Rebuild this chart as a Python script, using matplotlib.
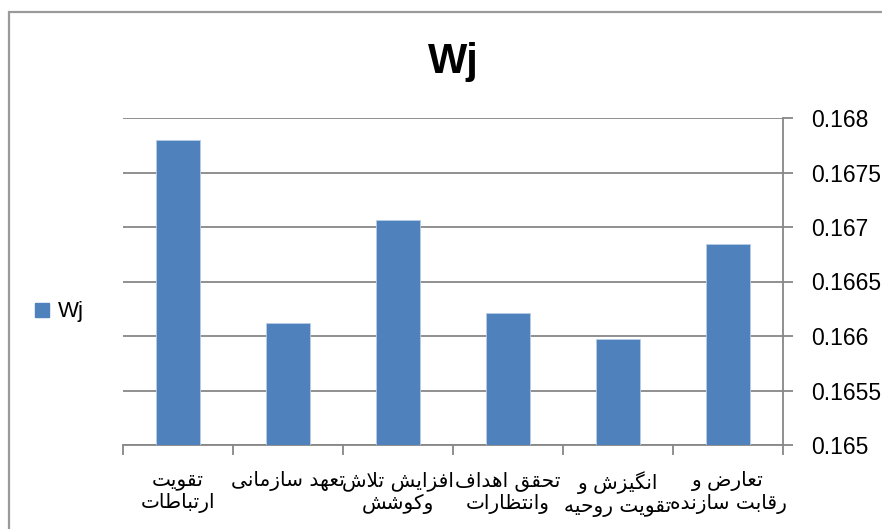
import matplotlib
matplotlib.use("Agg")
import matplotlib.pyplot as plt
from matplotlib import font_manager, ft2font
from matplotlib.font_manager import FontProperties
from matplotlib.patches import Rectangle
from matplotlib.lines import Line2D
from matplotlib.ticker import FuncFormatter, MultipleLocator, FixedLocator

# ---------------- data ----------------
categories = [
    "تقویت\nارتباطات",
    "تعهد سازمانی",
    "افزایش تلاش\nوکوشش",
    "تحقق اهداف\nوانتظارات",
    "انگیزش و\nتقویت روحیه",
    "تعارض و\nرقابت سازنده",
]
values = [0.16780, 0.16612, 0.16706, 0.16621, 0.16597, 0.16684]
series_name = "Wj"
title = "Wj"
y_min, y_max, y_step = 0.165, 0.168, 0.0005

# ---------------- Arabic shaping (matplotlib has no RTL shaping) ----------------
FORMS = {
    "ا": (0xFE8D, 0xFE8E, None, None),
    "ب": (0xFE8F, 0xFE90, 0xFE91, 0xFE92),
    "ت": (0xFE95, 0xFE96, 0xFE97, 0xFE98),
    "ح": (0xFEA1, 0xFEA2, 0xFEA3, 0xFEA4),
    "د": (0xFEA9, 0xFEAA, None, None),
    "ر": (0xFEAD, 0xFEAE, None, None),
    "ز": (0xFEAF, 0xFEB0, None, None),
    "س": (0xFEB1, 0xFEB2, 0xFEB3, 0xFEB4),
    "ش": (0xFEB5, 0xFEB6, 0xFEB7, 0xFEB8),
    "ض": (0xFEBD, 0xFEBE, 0xFEBF, 0xFEC0),
    "ط": (0xFEC1, 0xFEC2, 0xFEC3, 0xFEC4),
    "ظ": (0xFEC5, 0xFEC6, 0xFEC7, 0xFEC8),
    "ع": (0xFEC9, 0xFECA, 0xFECB, 0xFECC),
    "ف": (0xFED1, 0xFED2, 0xFED3, 0xFED4),
    "ق": (0xFED5, 0xFED6, 0xFED7, 0xFED8),
    "ک": (0xFB8E, 0xFB8F, 0xFB90, 0xFB91),
    "گ": (0xFB92, 0xFB93, 0xFB94, 0xFB95),
    "ل": (0xFEDD, 0xFEDE, 0xFEDF, 0xFEE0),
    "م": (0xFEE1, 0xFEE2, 0xFEE3, 0xFEE4),
    "ن": (0xFEE5, 0xFEE6, 0xFEE7, 0xFEE8),
    "ه": (0xFEE9, 0xFEEA, 0xFEEB, 0xFEEC),
    "و": (0xFEED, 0xFEEE, None, None),
    "ی": (0xFBFC, 0xFBFD, 0xFBFE, 0xFBFF),
}
FALLBACK = {
    "ی": (0xFEEF, 0xFEF0, 0xFEF3, 0xFEF4),
    "ک": (0xFED9, 0xFEDA, 0xFEDB, 0xFEDC),
    "گ": (0xFED9, 0xFEDA, 0xFEDB, 0xFEDC),
}
DUAL = {c for c, f in FORMS.items() if f[2] is not None}

AR_FAMILY = "DejaVu Sans"
_ar_path = font_manager.findfont(FontProperties(family=AR_FAMILY))
_ar_font = ft2font.FT2Font(_ar_path)


def _has(cp):
    return _ar_font.get_char_index(cp) != 0


def _form(c, idx):
    cp = FORMS[c][idx]
    if cp is not None and _has(cp):
        return chr(cp)
    if c in FALLBACK and _has(FALLBACK[c][idx]):
        return chr(FALLBACK[c][idx])
    return c


def shape_line(line):
    chars = list(line)
    n = len(chars)
    out = []
    i = 0
    while i < n:
        c = chars[i]
        prev_join = i > 0 and chars[i - 1] in DUAL
        if c == "ل" and i + 1 < n and chars[i + 1] == "ا":
            cp = 0xFEFC if prev_join else 0xFEFB
            out.append(chr(cp) if _has(cp) else "لا")
            i += 2
            continue
        if c not in FORMS:
            out.append(c)
            i += 1
            continue
        next_join = c in DUAL and i + 1 < n and chars[i + 1] in FORMS
        if prev_join and next_join:
            idx = 3
        elif prev_join:
            idx = 1
        elif next_join:
            idx = 2
        else:
            idx = 0
        out.append(_form(c, idx))
        i += 1
    return "".join(reversed(out))


def shape(text):
    return "\n".join(shape_line(l) for l in text.split("\n"))


# ---------------- figure ----------------
W, H = 882, 529
fig = plt.figure(figsize=(W / 100, H / 100), dpi=100)
fig.patch.set_facecolor("white")

LAT = "Liberation Sans"
GRAY = "#878787"
BAR = "#4F81BD"

ax = fig.add_axes([123 / W, 84 / H, 660 / W, 327 / H])
x = list(range(len(categories)))
ax.bar(x, values, width=0.4, color=BAR, edgecolor="#B9CDE5", linewidth=0.6,
       label=series_name, zorder=3)

ax.set_xlim(-0.5, len(categories) - 0.5)
ax.set_ylim(y_min, y_max)
ax.yaxis.set_major_locator(MultipleLocator(y_step))
ax.yaxis.set_major_formatter(FuncFormatter(lambda v, p: f"{round(v, 4):g}"))
ax.yaxis.tick_right()
ax.grid(axis="y", color=GRAY, linewidth=1.3, zorder=0)
ax.set_axisbelow(True)

for s in ("top", "left"):
    ax.spines[s].set_visible(False)
for s in ("right", "bottom"):
    ax.spines[s].set_color(GRAY)
    ax.spines[s].set_linewidth(1.3)

ax.tick_params(axis="y", which="major", direction="out", length=7, width=1.3,
               color=GRAY, pad=13, labelsize=16.5, labelcolor="black")
for t in ax.get_yticklabels():
    t.set_fontfamily(LAT)

ax.set_xticks(x)
ax.set_xticklabels([shape(c) for c in categories], fontfamily=AR_FAMILY,
                   fontsize=14.5, linespacing=1.2)
ax.tick_params(axis="x", which="major", length=0, pad=19)
ax.xaxis.set_minor_locator(FixedLocator([i - 0.5 for i in range(len(categories) + 1)]))
ax.tick_params(axis="x", which="minor", direction="out", length=7, width=1.3,
               color=GRAY)

# title
fig.text(453 / W, 1 - 73 / H, title, ha="center", va="baseline",
         fontsize=30, fontweight="bold", fontfamily=LAT)

# legend
handle = Line2D([], [], marker="s", linestyle="", color=BAR, markersize=10)
leg = fig.legend([handle], [series_name], loc="center left",
                 bbox_to_anchor=(22 / W, 1 - 312 / H), frameon=False,
                 handlelength=0.8, handletextpad=0.3, borderpad=0,
                 prop=FontProperties(family=LAT, size=16))

# chart area border
fig.add_artist(Rectangle((9 / W, -0.1), 1.2, 1 - 12 / H + 0.1,
                         transform=fig.transFigure, fill=False,
                         edgecolor="#9a9a9a", linewidth=1.6))

fig.savefig("out.png", dpi=100)
